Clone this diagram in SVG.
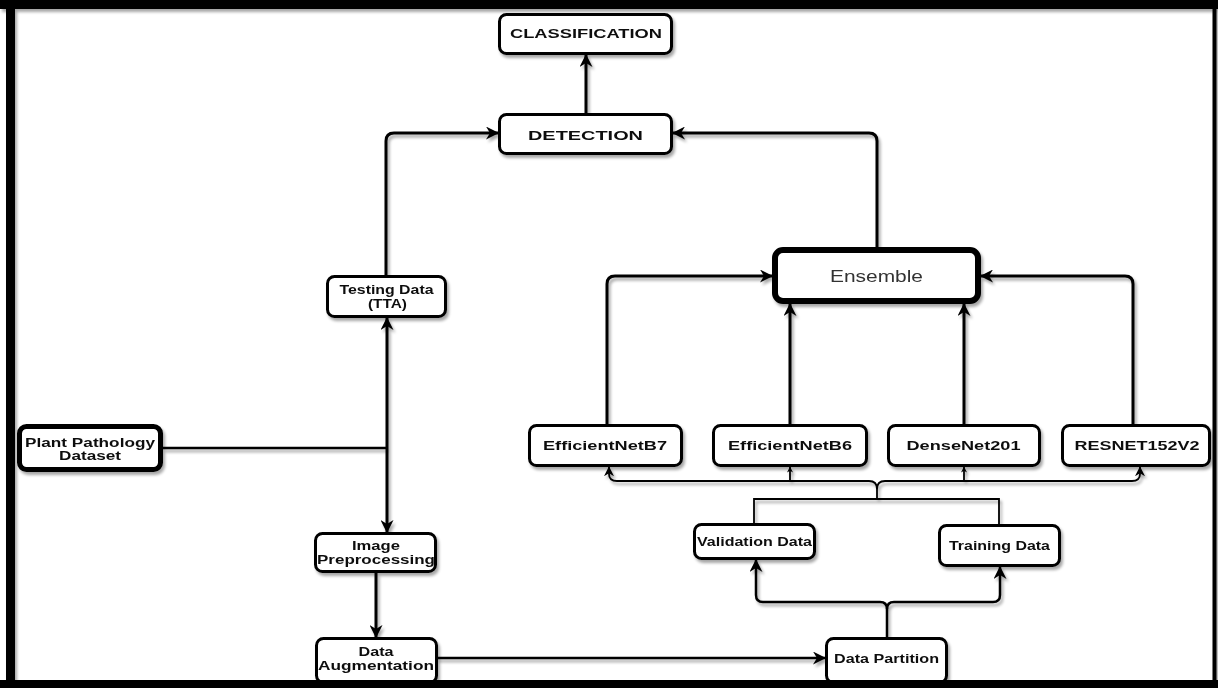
<svg xmlns="http://www.w3.org/2000/svg" width="1218" height="688" viewBox="0 0 1218 688">
<defs>
<filter id="sh" x="-10%" y="-10%" width="130%" height="140%">
<feGaussianBlur in="SourceAlpha" stdDeviation="1.8"/>
<feOffset dx="2" dy="3" result="b"/>
<feComponentTransfer><feFuncA type="linear" slope="0.35"/></feComponentTransfer>
<feMerge><feMergeNode/><feMergeNode in="SourceGraphic"/></feMerge>
</filter>
<marker id="ar" viewBox="0 0 13 13" markerWidth="13" markerHeight="13" refX="12" refY="6.5" orient="auto-start-reverse" markerUnits="userSpaceOnUse">
<path d="M0,0 L13,6.5 L0,13 L4,6.5 Z" fill="#000"/>
</marker>
<marker id="am" viewBox="0 0 13 13" markerWidth="10" markerHeight="10" refX="12" refY="6.5" orient="auto" markerUnits="userSpaceOnUse">
<path d="M0,0 L13,6.5 L0,13 L4,6.5 Z" fill="#000"/>
</marker>
<marker id="as" viewBox="0 0 13 13" markerWidth="6" markerHeight="6" refX="12" refY="6.5" orient="auto" markerUnits="userSpaceOnUse">
<path d="M0,0 L13,6.5 L0,13 L4,6.5 Z" fill="#000"/>
</marker>
</defs>
<style>
.box{fill:#fff;stroke:#000;stroke-width:3}
.thick{stroke-width:5}
.ens{stroke-width:6}
.t{font-family:"Liberation Sans",Arial,Helvetica,sans-serif;font-weight:bold;font-size:12.5px;fill:#111;text-anchor:middle}
.tn{font-family:"Liberation Sans",Arial,Helvetica,sans-serif;font-weight:normal;font-size:16px;fill:#333;text-anchor:middle}
.c{fill:none;stroke:#000;stroke-width:3}
.c2{fill:none;stroke:#000;stroke-width:2.5}
.c1{fill:none;stroke:#000;stroke-width:1.8}
</style>
<rect width="1218" height="688" fill="#fff"/>

<g id="connectors" filter="url(#sh)">
<path class="c" d="M586,113 V55" marker-end="url(#ar)"/>
<path class="c" d="M386,275 V141 Q386,133 394,133 H498" marker-end="url(#ar)"/>
<path class="c" d="M877,247 V141 Q877,133 869,133 H673" marker-end="url(#ar)"/>
<path class="c" d="M607,424 V284 Q607,276 615,276 H772" marker-end="url(#ar)"/>
<path class="c" d="M790,424 V304" marker-end="url(#ar)"/>
<path class="c" d="M964,424 V304" marker-end="url(#ar)"/>
<path class="c" d="M1133,424 V284 Q1133,276 1125,276 H981" marker-end="url(#ar)"/>
<path class="c2" d="M163,448 H387"/>
<path class="c" d="M387,318 V532" marker-start="url(#ar)" marker-end="url(#ar)"/>
<path class="c" d="M376,573 V637" stroke-width="3.5" marker-end="url(#ar)"/>
<path class="c2" d="M437,658 H825" marker-end="url(#ar)"/>
<path class="c2" d="M887,637 V609 Q887,602 880,602 H763 Q756,602 756,595 V560" marker-end="url(#ar)"/>
<path class="c2" d="M887,609 Q887,602 894,602 H993 Q1000,602 1000,595 V567" marker-end="url(#ar)"/>
<path class="c1" d="M754,523 V499 H999 V524"/>
<path class="c1" stroke-width="2.2" d="M877,499 V489 Q877,481 869,481 H617 Q609,481 609,474 V467" marker-end="url(#am)"/>
<path class="c1" stroke-width="2.2" d="M877,489 Q877,481 885,481 H1132 Q1140,481 1140,474 V467" marker-end="url(#am)"/>
<path class="c1" stroke-width="1" d="M790,481 V467" marker-end="url(#as)"/>
<path class="c1" stroke-width="1" d="M964,481 V467" marker-end="url(#as)"/>
</g>

<g id="classification" filter="url(#sh)">
<rect class="box" x="499.5" y="14.5" width="172" height="39" rx="7"/>
<text class="t" x="586" y="37.5" font-size="11.5" textLength="152" lengthAdjust="spacingAndGlyphs">CLASSIFICATION</text>
</g>
<g id="detection" filter="url(#sh)">
<rect class="box" x="499.5" y="114.5" width="172" height="39" rx="7"/>
<text class="t" x="585.5" y="139.5" font-size="15" textLength="115" lengthAdjust="spacingAndGlyphs">DETECTION</text>
</g>
<g id="testing" filter="url(#sh)">
<rect class="box" x="327.5" y="276.5" width="118" height="40" rx="7"/>
<text class="t" x="386.5" y="294" textLength="94" lengthAdjust="spacingAndGlyphs">Testing Data</text>
<text class="t" x="387.5" y="308" textLength="39" lengthAdjust="spacingAndGlyphs">(TTA)</text>
</g>
<g id="plant" filter="url(#sh)">
<rect class="box thick" x="19.5" y="426.5" width="141" height="43" rx="7"/>
<text class="t" x="90" y="447" textLength="130" lengthAdjust="spacingAndGlyphs">Plant Pathology</text>
<text class="t" x="90" y="460" textLength="62" lengthAdjust="spacingAndGlyphs">Dataset</text>
</g>
<g id="imgpre" filter="url(#sh)">
<rect class="box" x="315.5" y="533.5" width="120" height="38" rx="7"/>
<text class="t" x="376" y="550" textLength="48" lengthAdjust="spacingAndGlyphs">Image</text>
<text class="t" x="376" y="564" textLength="118" lengthAdjust="spacingAndGlyphs">Preprocessing</text>
</g>
<g id="dataaug" filter="url(#sh)">
<rect class="box" x="316.5" y="638.5" width="120" height="44" rx="7"/>
<text class="t" x="376" y="656" textLength="35" lengthAdjust="spacingAndGlyphs">Data</text>
<text class="t" x="376" y="669.5" textLength="116" lengthAdjust="spacingAndGlyphs">Augmentation</text>
</g>
<g id="datapart" filter="url(#sh)">
<rect class="box" x="826.5" y="638.5" width="120" height="44" rx="7"/>
<text class="t" x="886.5" y="663" textLength="105" lengthAdjust="spacingAndGlyphs">Data Partition</text>
</g>
<g id="validation" filter="url(#sh)">
<rect class="box" x="694.5" y="524.5" width="120" height="34" rx="7"/>
<text class="t" x="754.5" y="546" textLength="115" lengthAdjust="spacingAndGlyphs">Validation Data</text>
</g>
<g id="training" filter="url(#sh)">
<rect class="box" x="939.5" y="525.5" width="120" height="40" rx="7"/>
<text class="t" x="999.5" y="549.5" textLength="101" lengthAdjust="spacingAndGlyphs">Training Data</text>
</g>
<g id="b7" filter="url(#sh)">
<rect class="box" x="529.5" y="425.5" width="152" height="40" rx="7"/>
<text class="t" x="605" y="450" font-size="13" textLength="124" lengthAdjust="spacingAndGlyphs">EfficientNetB7</text>
</g>
<g id="b6" filter="url(#sh)">
<rect class="box" x="713.5" y="425.5" width="153" height="40" rx="7"/>
<text class="t" x="790" y="450" font-size="13" textLength="124" lengthAdjust="spacingAndGlyphs">EfficientNetB6</text>
</g>
<g id="densenet" filter="url(#sh)">
<rect class="box" x="888.5" y="425.5" width="151" height="40" rx="7"/>
<text class="t" x="963.5" y="450" font-size="13" textLength="114" lengthAdjust="spacingAndGlyphs">DenseNet201</text>
</g>
<g id="resnet" filter="url(#sh)">
<rect class="box" x="1062.5" y="425.5" width="147" height="40" rx="7"/>
<text class="t" x="1137" y="450" font-size="13" textLength="125" lengthAdjust="spacingAndGlyphs">RESNET152V2</text>
</g>
<g id="ensemble" filter="url(#sh)">
<rect class="box ens" x="775" y="250" width="203" height="51" rx="8"/>
<text class="tn" x="876.5" y="282" textLength="93" lengthAdjust="spacingAndGlyphs">Ensemble</text>
</g>

<g id="frame" filter="url(#sh)">
<rect x="0" y="0" width="1218" height="9" fill="#000"/>
<rect x="6" y="0" width="9" height="688" fill="#000"/>
<rect x="1212.5" y="0" width="4" height="688" fill="#000"/>
<rect x="0" y="680" width="1218" height="8" fill="#000"/>
</g>
</svg>
